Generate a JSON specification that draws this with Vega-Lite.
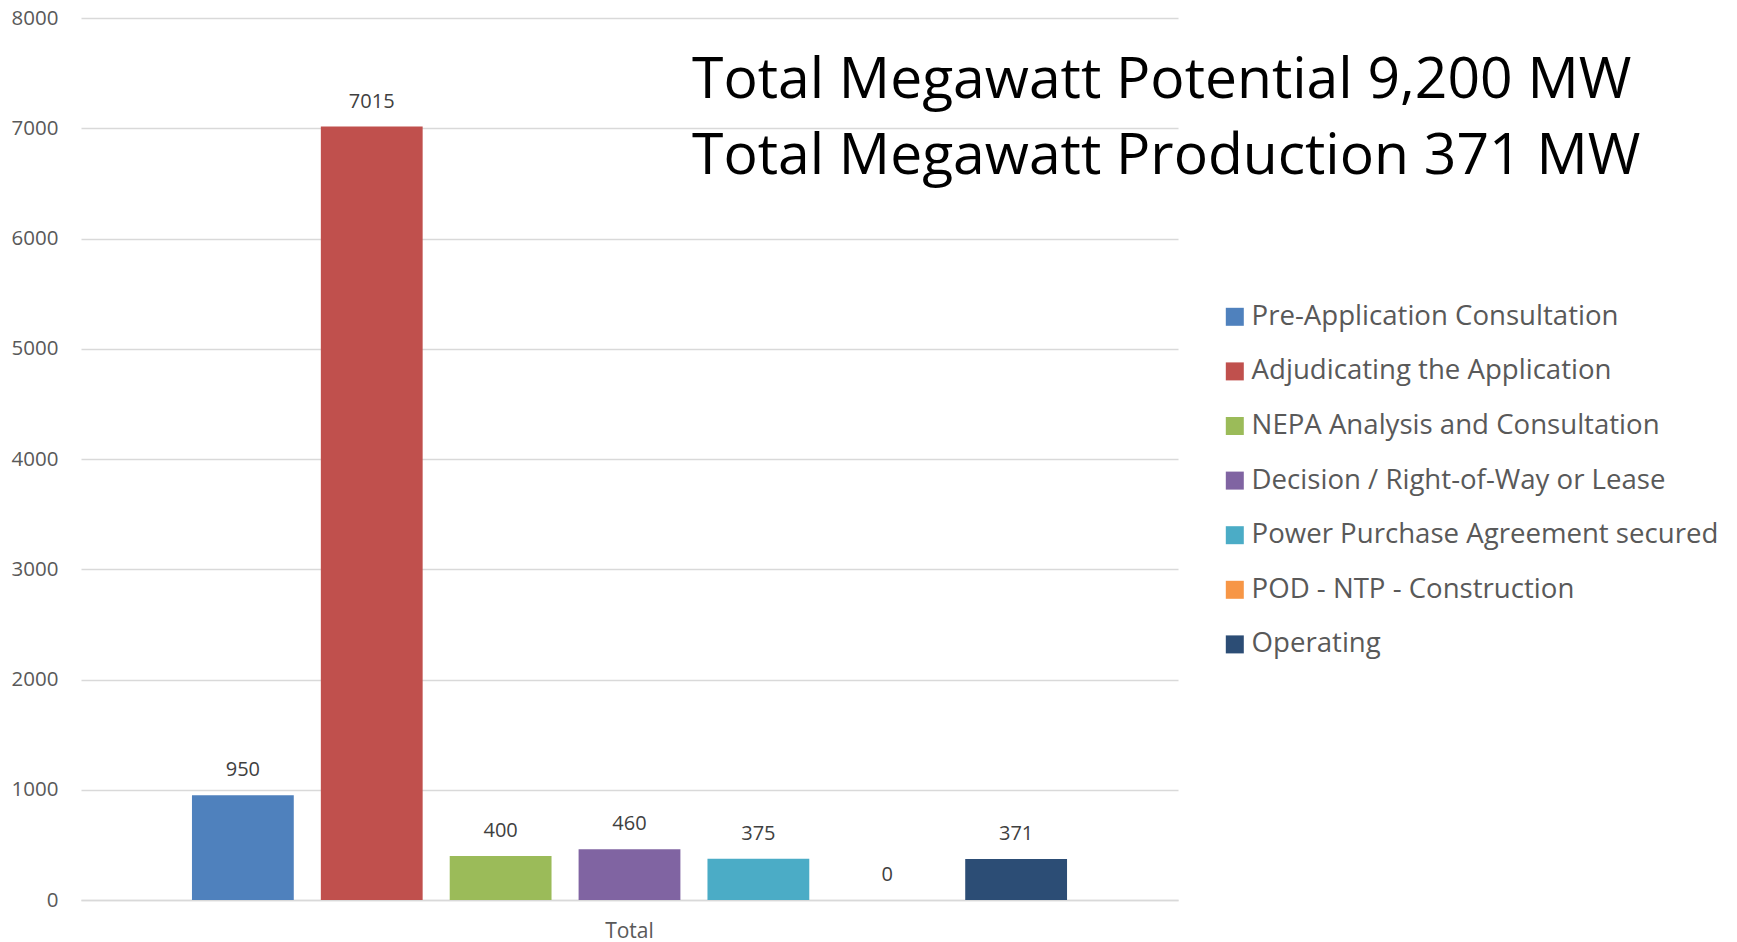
{
  "$schema": "https://vega.github.io/schema/vega-lite/v6.json",
  "width": 1097,
  "height": 882,
  "autosize": "none",
  "padding": {"left": 81, "top": 18, "right": 559, "bottom": 42},
  "background": "white",
  "title": {
    "text": ["Total Megawatt Potential 9,200 MW", "Total Megawatt Production 371 MW"],
    "orient": "top",
    "anchor": "start",
    "frame": "group",
    "baseline": "top",
    "offset": 0,
    "dx": 611,
    "dy": 178,
    "font": "Open Sans",
    "fontSize": 57,
    "fontWeight": "normal",
    "color": "#000000",
    "lineHeight": 76
  },
  "data": {
    "values": [
      {"category": "Total", "series": "Pre-Application Consultation", "mw": 950},
      {"category": "Total", "series": "Adjudicating the Application", "mw": 7015},
      {"category": "Total", "series": "NEPA Analysis and Consultation", "mw": 400},
      {"category": "Total", "series": "Decision / Right-of-Way or Lease", "mw": 460},
      {"category": "Total", "series": "Power Purchase Agreement secured", "mw": 375},
      {"category": "Total", "series": "POD - NTP - Construction", "mw": 0},
      {"category": "Total", "series": "Operating", "mw": 371}
    ]
  },
  "encoding": {
    "x": {
      "field": "category",
      "type": "nominal",
      "scale": {"paddingInner": 0, "paddingOuter": 0.108},
      "axis": {
        "title": null,
        "labelAngle": 0,
        "labelFont": "Open Sans",
        "labelFontSize": 21,
        "labelColor": "#595959",
        "labelPadding": 20,
        "ticks": false,
        "domainColor": "#d9d9d9",
        "domainWidth": 1.5
      }
    },
    "xOffset": {
      "field": "series",
      "type": "nominal",
      "sort": null,
      "scale": {"paddingInner": 0.21, "paddingOuter": 0.105}
    },
    "y": {
      "field": "mw",
      "type": "quantitative",
      "scale": {"domain": [0, 8000], "nice": false},
      "axis": {
        "title": null,
        "values": [0, 1000, 2000, 3000, 4000, 5000, 6000, 7000, 8000],
        "format": "d",
        "domain": false,
        "ticks": false,
        "labelPadding": 23,
        "labelOverlap": false,
        "labelFont": "Open Sans",
        "labelFontSize": 20.5,
        "labelColor": "#595959",
        "gridColor": "#d9d9d9",
        "gridWidth": 1.5
      }
    }
  },
  "layer": [
    {
      "mark": {"type": "bar"},
      "encoding": {
        "color": {
          "field": "series",
          "type": "nominal",
          "sort": null,
          "scale": {
            "domain": ["Pre-Application Consultation", "Adjudicating the Application", "NEPA Analysis and Consultation", "Decision / Right-of-Way or Lease", "Power Purchase Agreement secured", "POD - NTP - Construction", "Operating"],
            "range": ["#4F81BD", "#C0504D", "#9BBB59", "#8064A2", "#4BACC6", "#F79646", "#2C4D75"]
          },
          "legend": {
            "title": null,
            "orient": "none",
            "legendX": 1140,
            "legendY": 285,
            "symbolType": "square",
            "symbolSize": 324,
            "symbolStrokeWidth": 0,
            "labelFont": "Open Sans",
            "labelFontSize": 27.6,
            "labelColor": "#595959",
            "labelOffset": 3,
            "rowPadding": 25.6,
            "labelLimit": 600
          }
        }
      }
    },
    {
      "mark": {"type": "text", "baseline": "alphabetic", "dy": -19, "font": "Open Sans", "fontSize": 20, "color": "#404040"},
      "encoding": {
        "text": {"field": "mw", "type": "quantitative", "format": "d"}
      }
    }
  ],
  "config": {"view": {"stroke": null}}
}
